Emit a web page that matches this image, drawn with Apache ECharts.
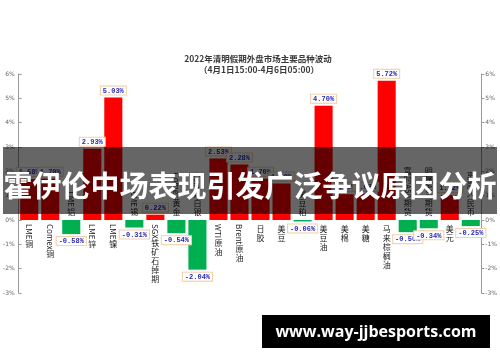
<!DOCTYPE html>
<html>
<head>
<meta charset="utf-8">
<script src="https://cdn.jsdelivr.net/npm/echarts@6/dist/echarts.min.js"></script>
<style>html,body{margin:0;padding:0;background:#fff;}#main{width:500px;height:362px;}</style>
</head>
<body>
<div id="main"></div>
<script>
const categories = ['LME铜','Comex铜','LME铝','LME锌','LME镍','LME锡','SGX铁矿石掉期','Comex黄金','Comex白银','WTI原油','Brent原油','日胶','美豆','美豆粕','美豆油','美棉','美糖','马来棕榈油','富时A50期货','明晟A50期货','美元','离岸人民币'];
const changes = [1.68, 1.70, -0.58, 2.93, 5.03, -0.31, 0.22, -0.54, -2.04, 2.53, 2.28, 1.70, 1.50, -0.06, 4.70, 1.06, 1.08, 5.72, -0.50, -0.34, 1.02, -0.25];
const yTicks = [-3, -2, -1, 0, 1, 2, 3, 4, 5, 6];
const titleLines = ['2022年清明假期外盘市场主要品种波动', '（4月1日15:00-4月6日05:00）'];
const bannerText = '霍伊伦中场表现引发广泛争议原因分析';
const watermarkText = 'www.way-jjbesports.com';

const CAT_FONT_SIZE = 8;
const CAT_FONT_FAMILY = '"Noto Sans CJK SC", sans-serif';
const measureCtx = document.createElement('canvas').getContext('2d');
measureCtx.font = CAT_FONT_SIZE + 'px ' + CAT_FONT_FAMILY;

function splitRuns(s) {
  const runs = [];
  let cur = '';
  for (const ch of s) {
    if (ch.charCodeAt(0) < 128) { cur += ch; }
    else {
      if (cur) { runs.push({latin: true, text: cur}); cur = ''; }
      runs.push({latin: false, text: ch});
    }
  }
  if (cur) runs.push({latin: true, text: cur});
  runs.forEach(r => { r.len = r.latin ? measureCtx.measureText(r.text).width : CAT_FONT_SIZE + 1; });
  return runs;
}

const chart = echarts.init(document.getElementById('main'), null, {renderer: 'canvas'});

const yMin = yTicks[0], yMax = yTicks[yTicks.length - 1];
const axisCommon = {
  type: 'value', min: yMin, max: yMax, interval: 1,
  splitLine: {show: false},
  axisLine: {show: true, lineStyle: {color: '#9a9a9a', width: 1}},
  axisTick: {show: true, length: 3, lineStyle: {color: '#9a9a9a'}},
  axisLabel: {formatter: '{value}%', fontSize: 6, color: '#666', margin: 4, fontFamily: 'DejaVu Sans'}
};

chart.setOption({
  animation: false,
  grid: {left: 17, right: 17, top: 74, bottom: 69, containLabel: false},
  xAxis: {
    type: 'category', data: categories,
    axisLine: {show: false}, axisTick: {show: false}, axisLabel: {show: false}
  },
  yAxis: [
    Object.assign({}, axisCommon, {position: 'left', axisTick: {show: true, inside: true, length: 3, lineStyle: {color: '#9a9a9a'}}}),
    Object.assign({}, axisCommon, {position: 'right'})
  ],
  series: [
    {
      type: 'bar',
      barWidth: '86%',
      data: changes.map(v => ({
        value: v,
        itemStyle: {color: v >= 0 ? '#ff0000' : '#00b050'}
      })),
      label: {
        show: true, position: 'outside', distance: 3,
        formatter: p => p.value.toFixed(2) + '%',
        fontSize: 7, fontWeight: 'bold', color: '#2a2ab8',
        fontFamily: 'Liberation Mono, DejaVu Sans Mono, monospace',
        backgroundColor: '#ffffff', borderColor: '#f0cfa8', borderWidth: 1,
        padding: [1, 2, 0, 2]
      },
      z: 2
    },
    {
      type: 'custom',
      silent: true,
      clip: false,
      z: 3,
      data: categories.map((c, i) => [i, changes[i]]),
      renderItem: function (params, api) {
        const idx = api.value(0);
        const v = api.value(1);
        const base = api.coord([idx, 0]);
        const runs = splitRuns(categories[idx]);
        const total = runs.reduce((a, r) => a + r.len, 0);
        let y = v >= 0 ? base[1] + 4 : base[1] - 4 - total;
        const x = base[0];
        const children = [];
        runs.forEach(r => {
          if (r.latin) {
            children.push({
              type: 'text', x: x, y: y, rotation: -Math.PI / 2,
              style: {text: r.text, x: 0, y: 0, align: 'left', verticalAlign: 'middle',
                fontSize: CAT_FONT_SIZE, fontFamily: CAT_FONT_FAMILY, fill: '#222'}
            });
          } else {
            children.push({
              type: 'text', x: x, y: y + r.len / 2,
              style: {text: r.text, x: 0, y: 0, align: 'center', verticalAlign: 'middle',
                fontSize: CAT_FONT_SIZE, fontFamily: CAT_FONT_FAMILY, fill: '#222'}
            });
          }
          y += r.len;
        });
        return {type: 'group', children: children};
      }
    }
  ],
  graphic: [
    {type: 'text', x: 258, y: 59, z: 50,
      style: {text: titleLines[0], align: 'center', verticalAlign: 'middle', fontSize: 8.5, fontWeight: 'bold',
        fontFamily: '"Noto Sans CJK SC", sans-serif', fill: '#3a3a3a'}},
    {type: 'text', x: 259, y: 70, z: 50,
      style: {text: titleLines[1], align: 'center', verticalAlign: 'middle', fontSize: 8.5, fontWeight: 'bold',
        fontFamily: '"Noto Sans CJK SC", sans-serif', fill: '#3a3a3a'}},
    {type: 'rect', z: 100, shape: {x: 3, y: 147, width: 494, height: 67},
      style: {fill: 'rgba(0,0,0,0.6)'}},
    {type: 'text', z: 101, x: 250, y: 186,
      style: {text: bannerText, align: 'center', verticalAlign: 'middle', fontSize: 29, fontWeight: 'bold',
        fontFamily: '"Noto Sans CJK SC", sans-serif', fill: '#ffffff'}},
    {type: 'rect', z: 100, shape: {x: 262, y: 315, width: 228, height: 33},
      style: {fill: '#000000'}},
    {type: 'text', z: 101, x: 376, y: 332,
      style: {text: watermarkText, align: 'center', verticalAlign: 'middle', fontSize: 16, fontWeight: 'bold',
        fontFamily: '"Open Sans", sans-serif', fill: '#ffffff'}}
  ]
});
</script>
</body>
</html>
